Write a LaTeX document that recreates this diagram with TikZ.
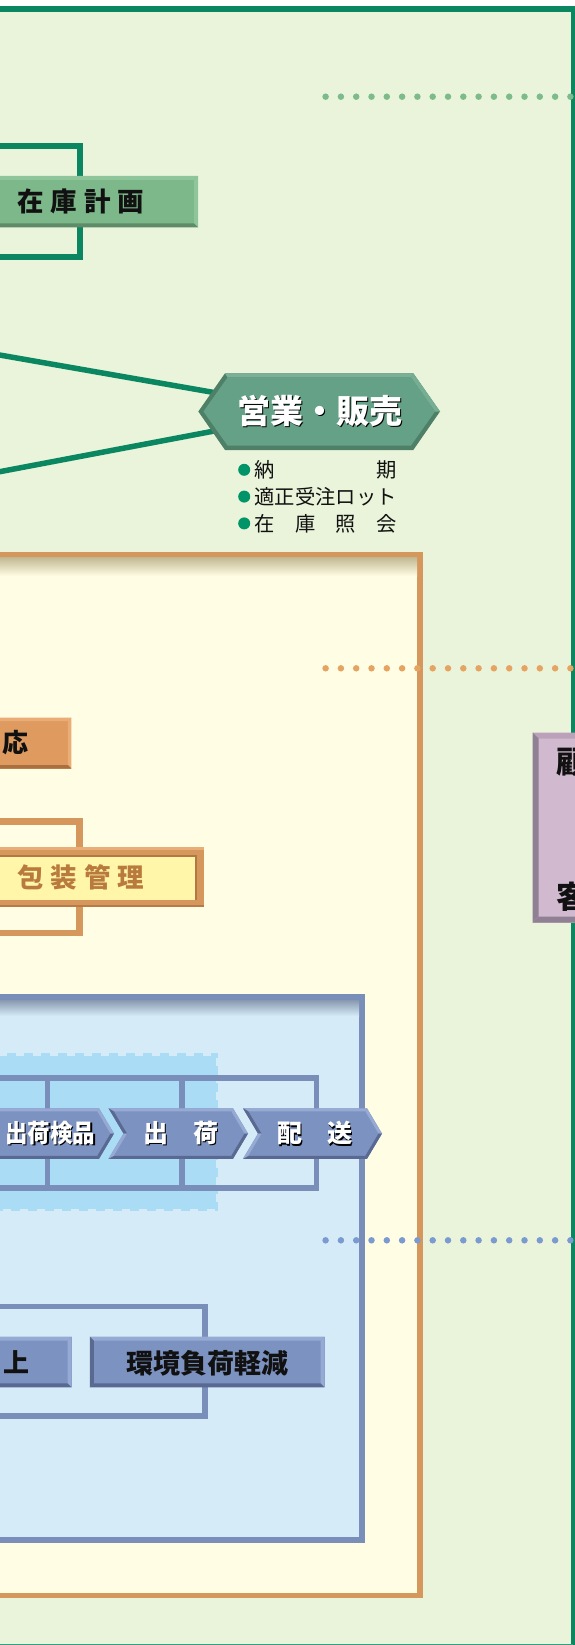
\documentclass[tikz,border=0pt]{standalone}
\usepackage{fontspec}
\usepackage{graphicx}
\newfontfamily\cjk{Noto Sans CJK JP}
\usetikzlibrary{calc}
\definecolor{greenbg}{HTML}{EAF4DB}
\definecolor{gframe}{HTML}{0A8660}
\definecolor{gbottom}{HTML}{30A07E}
\definecolor{gdot}{HTML}{7DBB8A}
\definecolor{gbox}{HTML}{7DB88A}
\definecolor{gboxlt}{HTML}{8FC59B}
\definecolor{gboxdk}{HTML}{5E8B68}
\definecolor{hexfill}{HTML}{65A186}
\definecolor{hexdk}{HTML}{4E7F67}
\definecolor{hexlt}{HTML}{79B096}
\definecolor{bulletc}{HTML}{009468}
\definecolor{oframe}{HTML}{D6975D}
\definecolor{odot}{HTML}{E6A462}
\definecolor{cream}{HTML}{FFFDE4}
\definecolor{oshade}{HTML}{C2B994}
\definecolor{obox}{HTML}{DF9B5F}
\definecolor{oboxlt}{HTML}{E9AD77}
\definecolor{oboxdk}{HTML}{A96F3F}
\definecolor{yfill}{HTML}{FFF6AA}
\definecolor{ytext}{HTML}{B97A3D}
\definecolor{pfill}{HTML}{D1B9CF}
\definecolor{ptop}{HTML}{BBA2BA}
\definecolor{pdk}{HTML}{8F8094}
\definecolor{bframe}{HTML}{798EB9}
\definecolor{bfill}{HTML}{D5ECF8}
\definecolor{bshade}{HTML}{8898AE}
\definecolor{bdash}{HTML}{AADDF5}
\definecolor{bdot}{HTML}{7B9BD0}
\definecolor{bbox}{HTML}{7C92C0}
\definecolor{bboxlt}{HTML}{96AAD4}
\definecolor{bboxdk}{HTML}{5A6991}
\definecolor{inkc}{HTML}{111111}
\pgfdeclarelayer{back}
\pgfdeclarelayer{conn}
\pgfsetlayers{back,conn,main}
% bevel strips: x1 y1 x2 y2 b top right bottom left
\newcommand\bvl[9]{%
 \fill[#6] (#1,#2) -- (#3,#2) -- ({#3-#5},{#2+#5}) -- ({#1+#5},{#2+#5}) -- cycle;
 \fill[#7] (#3,#2) -- (#3,#4) -- ({#3-#5},{#4-#5}) -- ({#3-#5},{#2+#5}) -- cycle;
 \fill[#8] (#3,#4) -- (#1,#4) -- ({#1+#5},{#4-#5}) -- ({#3-#5},{#4-#5}) -- cycle;
 \fill[#9] (#1,#4) -- (#1,#2) -- ({#1+#5},{#2+#5}) -- ({#1+#5},{#4-#5}) -- cycle;
}
% chevron: xl xr yt yb
\newcommand\chev[4]{%
 \pgfmathsetmacro\chvym{(#3+#4)/2}
 \fill[bbox] (#1,#3) -- (#2,#3) -- ({#2+15},\chvym) -- (#2,#4) -- (#1,#4) -- ({#1+15},\chvym) -- cycle;
 \fill[bboxlt] (#1,#3) -- (#2,#3) -- ({#2-1.7},{#3+3}) -- ({#1+5.25},{#3+3}) -- cycle;
 \fill[bboxlt] (#2,#3) -- ({#2+15},\chvym) -- ({#2+11.5},\chvym) -- ({#2-1.7},{#3+3}) -- cycle;
 \fill[bboxdk] ({#2+15},\chvym) -- (#2,#4) -- ({#2-1.7},{#4-3}) -- ({#2+11.5},\chvym) -- cycle;
 \fill[bboxdk] (#2,#4) -- (#1,#4) -- ({#1+5.25},{#4-3}) -- ({#2-1.7},{#4-3}) -- cycle;
 \fill[bboxdk] ({#1+15},\chvym) -- (#1,#3) -- ({#1+5.25},{#3+3}) -- ({#1+18.5},\chvym) -- cycle;
 \fill[bboxlt] (#1,#4) -- ({#1+15},\chvym) -- ({#1+18.5},\chvym) -- ({#1+5.25},{#4-3}) -- cycle;
}
\tikzset{
 txt/.style={inner sep=0pt, outer sep=0pt},
 lab/.style={txt, font={\cjk\bfseries\fontsize{#1}{#1}\selectfont}},
 reg/.style={txt, font={\cjk\fontsize{#1}{#1}\selectfont}},
 dotline/.style={line width=6.5pt, line cap=round, dash pattern=on 0pt off 15.3pt},
 gline/.style={gframe, line width=5.5pt},
}
\begin{document}
\begin{tikzpicture}[x=1pt,y=-1pt]
\useasboundingbox (0,0) rectangle (575,1645);
\clip (0,0) rectangle (575,1645);
\begin{pgfonlayer}{back}
 \fill[white] (0,0) rectangle (575,1645);
 \fill[greenbg] (0,9) rectangle (573,1645);
 \draw[gframe, line width=6pt] (-5,9) -- (575.5,9);
 \draw[gframe, line width=5pt] (573,6) -- (573,1650);
 \draw[gbottom, line width=1.5pt] (-5,1644.3) -- (573,1644.3);
\end{pgfonlayer}

% green dotted divider
\coordinate (gd1) at (325.6,96.7);
\coordinate (gd2) at (576,96.7);
\draw[gdot, dotline] (gd1) -- (gd2);

% green bracket and inventory planning box
\coordinate (gb1) at (-10,145.7);
\coordinate (gb2) at (79.6,145.7);
\coordinate (gb3) at (79.6,257);
\coordinate (gb4) at (-10,257);
\draw[gframe, line width=6pt] (gb1) -- (gb2) -- (gb3) -- (gb4);
\fill[gbox] (-40,176) rectangle (198,227.3);
\bvl{-40}{176}{198}{227.3}{4}{gboxlt}{gboxlt}{gboxdk}{gboxdk}
\node[lab=26.5, text=inkc] (zaiko) at (80.7,201.5) {在\kern7pt 庫\kern7pt 計\kern7pt 画};

% sales hexagon
\fill[hexdk] (198.3,411.5) -- (225,373.3) -- (413.3,373.3) -- (440,411.5) -- (413.3,450) -- (225,450) -- cycle;
\fill[hexlt] (225,373.3) -- (413.3,373.3) -- (411,377.5) -- (227.5,377.5) -- cycle;
\fill[hexlt!85!hexfill] (413.3,373.3) -- (440,411.5) -- (435,411.5) -- (411,377.5) -- cycle;
\fill[hexfill] (203.5,411.5) -- (227.5,377.5) -- (411,377.5) -- (435,411.5) -- (411,445.5) -- (227.5,445.5) -- cycle;
\node[lab=33, text=black] (sales-sh) at (321.4,412.4) {営業・販売};
\node[lab=33, text=white] (sales) at (320,411) {営業・販売};
\coordinate (gl1) at (-5,354.2);
\coordinate (gl2) at (-5,472.6);
\begin{pgfonlayer}{conn}
 \draw[gline] (gl1) -- (sales);
 \draw[gline] (gl2) -- (sales);
\end{pgfonlayer}

% bullet list
\fill[bulletc] (244.2,469.8) circle (6);
\fill[bulletc] (244.2,496.6) circle (6);
\fill[bulletc] (244.2,523.4) circle (6);
\node[reg=20.3, anchor=west, text=inkc] (bl1) at (254.6,470.3) {納　　　　　期};
\node[reg=20.3, anchor=west, text=inkc] (bl2) at (254.6,497.1) {適正受注ロット};
\node[reg=20.3, anchor=west, text=inkc] (bl3) at (254.6,523.9) {在　庫　照　会};

% orange frame
\filldraw[fill=cream, draw=oframe, line width=5.5pt] (-10,554.8) rectangle (420,1595.3);
\shade[top color=oshade, bottom color=cream] (-10,557.6) rectangle (417.2,576);
\coordinate (od1) at (325.6,668.3);
\coordinate (od2) at (576,668.3);
\draw[odot, dotline] (od1) -- (od2);

% orange box
\fill[obox] (-40,717.5) rectangle (71.3,768.5);
\bvl{-40}{717.5}{71.3}{768.5}{3.5}{oboxlt}{oboxlt}{oboxdk}{oboxdk}
\node[lab=26, text=inkc] (tai) at (15.5,742.5) {応};

% orange bracket and packaging box
\coordinate (ob1) at (-10,821.5);
\coordinate (ob2) at (79.5,821.5);
\coordinate (ob3) at (79.5,933);
\coordinate (ob4) at (-10,933);
\draw[oframe, line width=6.5pt] (ob1) -- (ob2) -- (ob3) -- (ob4);
\fill[oframe] (-40,847.3) rectangle (204,907);
\fill[oboxlt] (-40,847.3) rectangle (204,849.8);
\fill[oboxdk!70!oframe] (-40,904.5) rectangle (204,907);
\fill[yfill] (-40,855) rectangle (197,900.3);
\draw[oboxdk!80!oframe, line width=1.6pt] (-40,855.8) -- (196.2,855.8) -- (196.2,900.3);
\node[lab=26.5, text=ytext] (houso) at (81,877) {包\kern7pt 装\kern7pt 管\kern7pt 理};

% customer box
\fill[pfill] (532.5,732.5) rectangle (600,922.5);
\bvl{532.5}{732.5}{600}{922.5}{6}{ptop}{pfill}{pdk}{pdk}
\node[lab=31, text=inkc, anchor=west] (kokyaku1) at (556,762) {顧};
\node[lab=31, text=inkc, anchor=west] (kokyaku2) at (556,896.5) {客};

% blue frame
\filldraw[fill=bfill, draw=bframe, line width=6pt] (-10,997) rectangle (362,1540.3);
\shade[top color=bshade, bottom color=bfill] (-10,1000) rectangle (359,1016);
\fill[bdash] (-10,1055.5) rectangle (215.5,1208.5);
\draw[bdash, line width=3pt, dash pattern=on 9pt off 8pt] (-10,1054.5) -- (216.5,1054.5) -- (216.5,1209.5) -- (-10,1209.5);

% grid
\coordinate (bg1) at (-10,1078);
\coordinate (bg2) at (316.6,1078);
\coordinate (bg3) at (316.6,1188);
\coordinate (bg4) at (-10,1188);
\draw[bframe, line width=5.5pt] (bg1) -- (bg2) -- (bg3) -- (bg4);
\draw[bframe, line width=5.5pt] (47.7,1078) -- (47.7,1188);
\draw[bframe, line width=5.5pt] (182,1078) -- (182,1188);

% chevrons
\chev{-40}{99}{1108.3}{1158.8}
\chev{108.5}{233}{1108.3}{1158.8}
\chev{243}{367}{1108.3}{1158.8}
\node[txt] (ch1-sh) at (51.6,1134.4) {\scalebox{0.9}[1]{\cjk\bfseries\fontsize{25}{25}\selectfont\color{black}出荷検品}};
\node[txt] (ch1) at (50.4,1133.2) {\scalebox{0.9}[1]{\cjk\bfseries\fontsize{25}{25}\selectfont\color{white}出荷検品}};
\node[lab=25, text=black] (ch2-sh) at (181.7,1134.4) {出　荷};
\node[lab=25, text=white] (ch2) at (180.5,1133.2) {出　荷};
\node[lab=25, text=black] (ch3-sh) at (315.7,1134.4) {配　送};
\node[lab=25, text=white] (ch3) at (314.5,1133.2) {配　送};

% blue dotted divider
\coordinate (bd1) at (325.6,1240.3);
\coordinate (bd2) at (576,1240.3);
\draw[bdot, dotline] (bd1) -- (bd2);

% blue bracket and bottom boxes
\coordinate (bb1) at (-10,1306.5);
\coordinate (bb2) at (205,1306.5);
\coordinate (bb3) at (205,1416);
\coordinate (bb4) at (-10,1416);
\draw[bframe, line width=5.5pt] (bb1) -- (bb2) -- (bb3) -- (bb4);
\fill[bbox] (-40,1336.7) rectangle (71.5,1387.3);
\bvl{-40}{1336.7}{71.5}{1387.3}{4}{bboxlt}{bboxlt}{bboxdk}{bboxdk}
\fill[bbox] (89.8,1336.7) rectangle (324.5,1387.3);
\bvl{89.8}{1336.7}{324.5}{1387.3}{4}{bboxlt}{bboxlt}{bboxdk}{bboxdk}
\node[lab=26, text=inkc] (ue) at (16.5,1362.5) {上};
\node[lab=27, text=inkc] (kankyo) at (207,1363) {環境負荷軽減};
\end{tikzpicture}
\end{document}
